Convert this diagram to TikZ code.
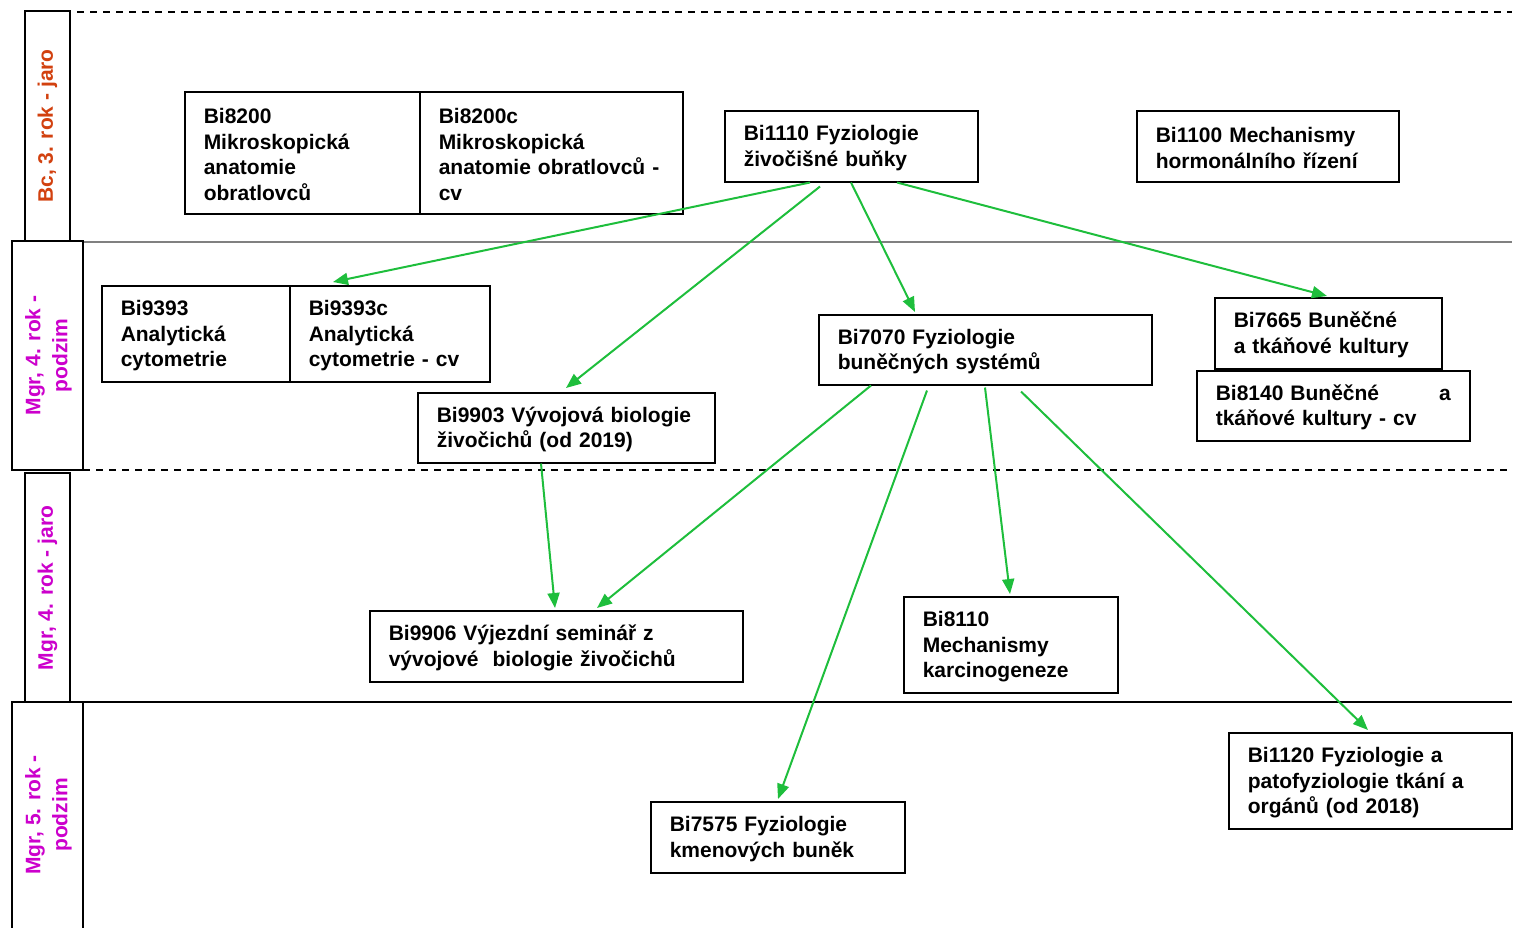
\documentclass[tikz,border=0pt]{standalone}
\usepackage{fontspec}
\setmainfont{Liberation Sans}
\usetikzlibrary{arrows.meta,calc}
\definecolor{arrgreen}{RGB}{30,190,60}
\definecolor{lblorange}{RGB}{210,65,15}
\definecolor{lblmag}{RGB}{204,0,204}
\tikzset{
  course/.style={draw=black, line width=1.5pt, anchor=north west, inner xsep=19pt, inner ysep=0pt,
    align=left, font=\fontsize{21}{25.5}\selectfont\bfseries},
  dep/.style={draw=arrgreen, line width=2pt, -{Triangle[length=15pt,width=12pt]}},
  lblbox/.style={draw=black, line width=2pt},
  lbltext/.style={rotate=90, align=center, font=\fontsize{21}{27}\selectfont\bfseries},
  dashline/.style={line width=1.5pt, dash pattern=on 7pt off 6pt}
}
\newcommand{\cbox}[6]{\node[course, minimum width=#3pt, minimum height=#4pt, text width=#3pt-38pt] (#5) at (#1,#2) {\rule{0pt}{19pt}#6};}
\begin{document}
\begin{tikzpicture}[x=1pt,y=-1pt]
\useasboundingbox (0,0) rectangle (1518,927);
% separators
\draw[dashline] (25,12) -- (1512,12);
\draw[line width=1.5pt, gray] (32,242) -- (1512,242);
\draw[dashline] (83,470) -- (1512,470);
\draw[line width=1.5pt] (83,702) -- (1512,702);
% row labels
\draw[lblbox, fill=white] (25,11) rectangle (70,241);
\node[lbltext, text=lblorange] (l1) at (47.5,126) {Bc, 3. rok - jaro};
\draw[lblbox, fill=white] (12,241) rectangle (83,470);
\node[lbltext, text=lblmag] (l2) at (48.5,355.5) {Mgr, 4. rok -\\podzim};
\draw[lblbox, fill=white] (25,473) rectangle (70,702);
\node[lbltext, text=lblmag] (l3) at (47.5,588) {Mgr, 4. rok - jaro};
\draw[lblbox] (12,940) -- (12,702) -- (83,702) -- (83,940);
\node[lbltext, text=lblmag] (l4) at (48.5,815) {Mgr, 5. rok -\\podzim};
% courses
\cbox{184}{91}{235}{122}{b8200}{Bi8200\\Mikroskopická\\anatomie\\obratlovců}
\cbox{419}{91}{263}{122}{b8200c}{Bi8200c\\Mikroskopická\\anatomie obratlovců -\\cv}
\cbox{724}{110}{253}{71}{b1110}{Bi1110 Fyziologie\\živočišné buňky}
\cbox{1136}{110}{262}{71}{b1100}{Bi1100 Mechanismy\\hormonálního řízení}
\cbox{101}{285}{188}{96}{b9393}{Bi9393\\Analytická\\cytometrie}
\cbox{289}{285}{200}{96}{b9393c}{Bi9393c\\Analytická\\cytometrie - cv}
\cbox{818}{314}{333}{70}{b7070}{Bi7070 Fyziologie\\buněčných systémů}
\cbox{1214}{297}{227}{71}{b7665}{Bi7665 Buněčné\\a tkáňové kultury}
\cbox{1196}{370}{273}{70}{b8140}{Bi8140 Buněčné\hfill a\hspace*{9pt}\\tkáňové kultury - cv}
\cbox{417}{392}{297}{70}{b9903}{Bi9903 Vývojová biologie\\živočichů (od 2019)}
\cbox{369}{610}{373}{71}{b9906}{Bi9906 Výjezdní seminář z\\vývojové\ \ biologie živočichů}
\cbox{903}{596}{214}{96}{b8110}{Bi8110\\Mechanismy\\karcinogeneze}
\cbox{1228}{732}{283}{96}{b1120}{Bi1120 Fyziologie a\\patofyziologie tkání a\\orgánů (od 2018)}
\cbox{650}{801}{254}{71}{b7575}{Bi7575 Fyziologie\\kmenových buněk}
% dependencies
\draw[dep] ([xshift=86pt]b1110.south west) -- ([xshift=44pt,yshift=3pt]b9393c.north west);
\draw[dep] ([xshift=96pt,yshift=-4pt]b1110.south west) -- ([xshift=149pt,yshift=4pt]b9903.north west);
\draw[dep] ([xshift=127pt]b1110.south west) -- ([xshift=97pt,yshift=2pt]b7070.north west);
\draw[dep] ([xshift=173pt]b1110.south west) -- ([xshift=113pt,yshift=1pt]b7665.north west);
\draw[dep] ([xshift=124pt]b9903.south west) -- ([xshift=186pt,yshift=2pt]b9906.north west);
\draw[dep] ([xshift=53pt]b7070.south west) -- ([xshift=228pt,yshift=2pt]b9906.north west);
\draw[dep] ([xshift=109pt,yshift=-5pt]b7070.south west) -- ([xshift=128pt,yshift=2pt]b7575.north west);
\draw[dep] ([xshift=167pt,yshift=-2pt]b7070.south west) -- ([xshift=107pt,yshift=2pt]b8110.north west);
\draw[dep] ([xshift=203pt,yshift=-6pt]b7070.south west) -- ([xshift=140pt,yshift=2pt]b1120.north west);
\end{tikzpicture}
\end{document}
